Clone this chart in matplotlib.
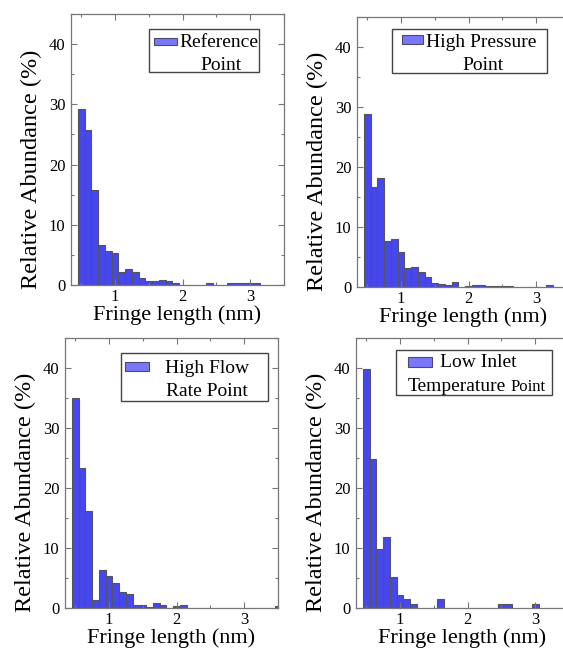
import matplotlib
matplotlib.use("Agg")
import matplotlib.pyplot as plt
from matplotlib.patches import Rectangle
from matplotlib.ticker import MultipleLocator

plt.rcParams['font.family'] = ['Liberation Serif', 'DejaVu Serif']
plt.rcParams['mathtext.fontset'] = 'stix'

# ---------------- data ----------------
lengths_ref = [0.5, 0.6, 0.7, 0.8, 0.9, 1.0, 1.1, 1.2, 1.3, 1.4, 1.5, 1.6, 1.7, 1.8, 1.9,
               2.4, 2.7, 2.8, 2.9, 3.0, 3.1]
abund_ref = [29.2, 25.7, 15.7, 6.7, 5.6, 5.3, 2.1, 2.7, 2.1, 1.2, 0.6, 0.6, 0.9, 0.6, 0.4,
             0.4, 0.4, 0.4, 0.4, 0.4, 0.4]

lengths_hp = [0.5, 0.6, 0.7, 0.8, 0.9, 1.0, 1.1, 1.2, 1.3, 1.4, 1.5, 1.6, 1.7, 1.8,
              2.0, 2.1, 2.2, 2.3, 2.4, 2.5, 2.6, 3.2]
abund_hp = [28.9, 16.7, 18.2, 7.6, 8.0, 5.8, 3.1, 3.4, 2.5, 1.7, 0.7, 0.5, 0.3, 0.9,
            0.15, 0.3, 0.3, 0.15, 0.15, 0.15, 0.15, 0.3]

lengths_hf = [0.5, 0.6, 0.7, 0.8, 0.9, 1.0, 1.1, 1.2, 1.3, 1.4, 1.5, 1.6, 1.7, 1.8,
              2.0, 2.1, 3.5]
abund_hf = [35.0, 23.3, 16.1, 1.4, 6.4, 5.4, 4.2, 2.7, 2.3, 0.55, 0.45, 0.15, 0.8, 0.5,
            0.3, 0.55, 0.3]

lengths_lt = [0.5, 0.6, 0.7, 0.8, 0.9, 1.0, 1.1, 1.2, 1.6, 2.5, 2.6, 3.0]
abund_lt = [39.8, 24.8, 9.8, 11.9, 5.2, 2.2, 1.5, 0.7, 1.5, 0.7, 0.7, 0.7]

x_label = "Fringe length (nm)"
y_label = "Relative Abundance (%)"
yticks = [0, 10, 20, 30, 40]
xticks = [1, 2, 3]

BAR = '#4747F2'
EDGE = '#555555'
SPINE = '#777777'

W, H = 563, 651
fig = plt.figure(figsize=(W / 100, H / 100), dpi=100)


def px_axes(l, t, r, b):
    return fig.add_axes([l / W, 1 - b / H, (r - l) / W, (b - t) / H])


panels = [
    (px_axes(71, 14, 284, 285), lengths_ref, abund_ref),
    (px_axes(357, 17, 570, 287), lengths_hp, abund_hp),
    (px_axes(65, 338, 278, 608), lengths_hf, abund_hf),
    (px_axes(356, 338, 569, 608), lengths_lt, abund_lt),
]

for ax, xs, ys in panels:
    ax.bar(xs, ys, width=0.1, color=BAR, edgecolor=EDGE, linewidth=0.8)
    ax.set_xlim(0.35, 3.5)
    ax.set_ylim(0, 45)
    ax.set_xticks(xticks)
    ax.set_yticks(yticks)
    ax.xaxis.set_minor_locator(MultipleLocator(0.5))
    ax.yaxis.set_minor_locator(MultipleLocator(5))
    ax.tick_params(which='both', direction='in', top=True, right=True,
                   color=SPINE, labelsize=12, width=0.8)
    ax.tick_params(which='major', length=4)
    ax.tick_params(which='minor', length=2.5)
    ax.tick_params(axis='x', pad=3)
    ax.tick_params(axis='y', pad=4)
    for s in ax.spines.values():
        s.set_color(SPINE)
        s.set_linewidth(0.9)
    ax.set_xlabel(x_label, fontsize=16, labelpad=0)
    ax.set_ylabel(y_label, fontsize=17.5)
    ax.yaxis.set_label_coords(-0.136, 0.428)


def legend_box(box, patch):
    x0, y0, x1, y1 = box
    fig.add_artist(Rectangle((x0 / W, 1 - y1 / H), (x1 - x0) / W, (y1 - y0) / H,
                             transform=fig.transFigure, facecolor='white',
                             edgecolor='#444444', linewidth=1.0, zorder=5))
    px0, py0, px1, py1 = patch
    fig.add_artist(Rectangle((px0 / W, 1 - py1 / H), (px1 - px0) / W, (py1 - py0) / H,
                             transform=fig.transFigure, facecolor='#7878F8',
                             edgecolor='#4a4a70', linewidth=0.8, zorder=6))


def ftext(x, y, s, size=14, ha='left'):
    fig.text(x / W, 1 - y / H, s, fontsize=size, ha=ha, va='baseline', zorder=7)


legend_box((149, 29, 259, 72), (154, 37.5, 177, 44.5))
ftext(179, 47, "Reference")
ftext(221, 70, "Point", ha='center')

legend_box((392, 29, 547, 73), (402, 35, 423, 43.5))
ftext(426, 47, "High Pressure")
ftext(483, 70, "Point", ha='center')

legend_box((121, 353, 268, 401), (125, 361.5, 149, 370.5))
ftext(165, 373, "High Flow")
ftext(166, 396, "Rate Point")

legend_box((396, 350, 552, 395), (408, 357, 432, 367))
ftext(440, 367, "Low Inlet")
ftext(408, 391, "Temperature")
ftext(511, 391, "Point", size=12)

fig.savefig("out.png", dpi=100)
